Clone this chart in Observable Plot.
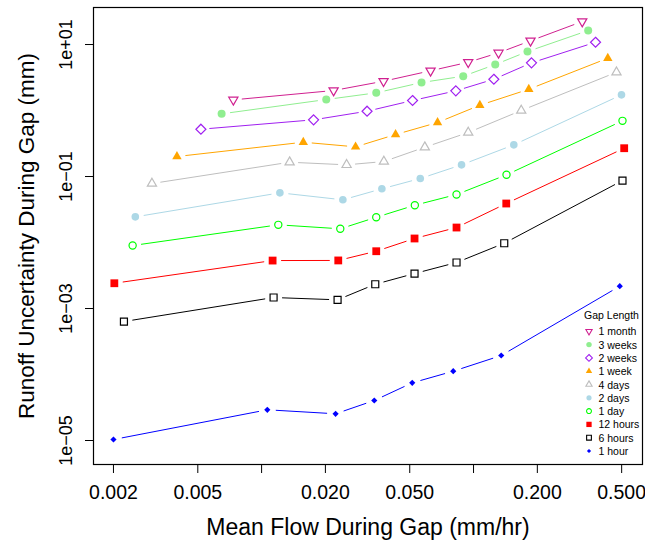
<!DOCTYPE html>
<html>
<head>
<meta charset="utf-8">
<script src="https://cdn.jsdelivr.net/npm/d3@7"></script>
<script src="https://cdn.jsdelivr.net/npm/@observablehq/plot@0.6"></script>
<style>
  html, body { margin: 0; padding: 0; background: white; }
  #chart { position: relative; width: 645px; height: 546px; font-family: "Liberation Sans", Arial, Helvetica, sans-serif; }
  #chart svg { display: block; }
</style>
</head>
<body>
<div id="chart"></div>
<script>
// ---- Data ----
const seriesNames = ["1 month", "3 weeks", "2 weeks", "1 week", "4 days", "2 days", "1 day", "12 hours", "6 hours", "1 hour"];

const flow_1month = [0.007355, 0.02186, 0.03762, 0.06268, 0.0944, 0.1312, 0.1857, 0.3257];
const unc_1month  = [1.452, 2.01, 2.78, 4.00, 5.39, 7.48, 11.38, 22.3];

const flow_3weeks = [0.006476, 0.02019, 0.03475, 0.05684, 0.0894, 0.1266, 0.1797, 0.3475];
const unc_3weeks  = [0.891, 1.468, 1.854, 2.656, 3.31, 4.98, 7.83, 16.3];

const flow_2weeks = [0.005172, 0.01759, 0.03145, 0.05156, 0.0825, 0.1247, 0.1877, 0.3764];
const unc_2weeks  = [0.521, 0.723, 0.976, 1.418, 1.988, 2.98, 5.28, 10.83];

const flow_1week = [0.003986, 0.01573, 0.02776, 0.04287, 0.06764, 0.1071, 0.1823, 0.4301];
const unc_1week  = [0.2009, 0.331, 0.2818, 0.4329, 0.658, 1.203, 2.10, 6.20];

const flow_4days = [0.003038, 0.01356, 0.02518, 0.03775, 0.05891, 0.0944, 0.1679, 0.4726];
const unc_4days  = [0.0783, 0.1648, 0.1503, 0.1687, 0.278, 0.464, 1.0, 3.80];

const flow_2days = [0.002536, 0.01220, 0.02418, 0.03694, 0.05606, 0.08778, 0.1549, 0.4990];
const unc_2days  = [0.02449, 0.05662, 0.04436, 0.06516, 0.0933, 0.1503, 0.302, 1.729];

const flow_1day = [0.002463, 0.01199, 0.02351, 0.03475, 0.05285, 0.08313, 0.1431, 0.5045];
const unc_1day  = [0.00901, 0.01854, 0.01614, 0.02415, 0.03673, 0.05333, 0.1062, 0.698];

const flow_12hours = [0.002019, 0.01127, 0.02300, 0.03475, 0.05268, 0.08313, 0.1427, 0.5139];
const unc_12hours  = [0.002415, 0.00533, 0.00535, 0.00738, 0.01151, 0.01687, 0.0390, 0.2685];

const flow_6hours = [0.002241, 0.01139, 0.02283, 0.03438, 0.05268, 0.08313, 0.1396, 0.5045];
const unc_6hours  = [0.000635, 0.001468, 0.001355, 0.002333, 0.003388, 0.004977, 0.00975, 0.0869];

const flow_1hour = [0.00200, 0.01064, 0.02234, 0.03401, 0.05138, 0.0802, 0.1351, 0.4898];
const unc_1hour  = [1.035e-5, 2.92e-5, 2.54e-5, 4.04e-5, 7.48e-5, 1.122e-4, 1.94e-4, 2.18e-3];

const seriesFlows = [flow_1month, flow_3weeks, flow_2weeks, flow_1week, flow_4days, flow_2days, flow_1day, flow_12hours, flow_6hours, flow_1hour];
const seriesUncs  = [unc_1month, unc_3weeks, unc_2weeks, unc_1week, unc_4days, unc_2days, unc_1day, unc_12hours, unc_6hours, unc_1hour];

const xTickValues = [0.002, 0.005, 0.01, 0.02, 0.05, 0.1, 0.2, 0.5];
const xTickLabels = ["0.002", "0.005", "", "0.020", "0.050", "", "0.200", "0.500"];
const yTickValues = [1e-5, 1e-3, 1e-1, 10];
const yTickLabels = ["1e\u221205", "1e\u221203", "1e\u221201", "1e+01"];

const xTitle = "Mean Flow During Gap (mm/hr)";
const yTitle = "Runoff Uncertainty During Gap (mm)";
const legendTitle = "Gap Length";

// ---- Styles ----
const seriesColors = ["#D02090", "#90EE90", "#A020F0", "#FFA500", "#BEBEBE", "#ADD8E6", "#00FF00", "#FF0000", "#000000", "#0000FF"];
const seriesShapes = ["triDown", "circle", "diamond", "triUp", "triUp", "circle", "circle", "square", "square", "diamond"];
const seriesFilled = [false, true, false, true, false, true, false, true, false, true];
const seriesSizes  = [4.6, 4.0, 5.0, 4.7, 4.6, 3.8, 3.6, 3.9, 3.5, 3.1];

const W = 645, H = 546, ML = 93, MR = 3, MT = 7, MB = 82;
const xDomain = [0.00161, 0.627];
const yDomain = [4.33e-6, 36.4];
const GAP = 8.5; // pixel gap around points (R type = "b")

// custom symbols; half-width derived from the size Plot passes (r*r*PI)
const rad = s => Math.sqrt(s / Math.PI);
const symbols = {
  circle: { draw(c, s) { const r = rad(s); c.moveTo(r, 0); c.arc(0, 0, r, 0, 2 * Math.PI); c.closePath(); } },
  square: { draw(c, s) { const r = rad(s); c.rect(-r, -r, 2 * r, 2 * r); } },
  triUp: { draw(c, s) { const r = rad(s); c.moveTo(0, -r * 1.1547); c.lineTo(r, r * 0.5774); c.lineTo(-r, r * 0.5774); c.closePath(); } },
  triDown: { draw(c, s) { const r = rad(s); c.moveTo(0, r * 1.1547); c.lineTo(r, -r * 0.5774); c.lineTo(-r, -r * 0.5774); c.closePath(); } },
  diamond: { draw(c, s) { const r = rad(s); c.moveTo(0, -r); c.lineTo(r, 0); c.lineTo(0, r); c.lineTo(-r, 0); c.closePath(); } }
};

// ---- Build table & gapped segments ----
const rows = [];
const segs = [];
const kx = (W - ML - MR) / (Math.log10(xDomain[1]) - Math.log10(xDomain[0]));
const ky = (H - MT - MB) / (Math.log10(yDomain[1]) - Math.log10(yDomain[0]));
seriesNames.forEach((name, i) => {
  const fx = seriesFlows[i], uy = seriesUncs[i];
  fx.forEach((f, j) => rows.push({ series: name, idx: i, flow: f, unc: uy[j] }));
  for (let j = 0; j < fx.length - 1; j++) {
    const lx1 = Math.log10(fx[j]), ly1 = Math.log10(uy[j]);
    const lx2 = Math.log10(fx[j + 1]), ly2 = Math.log10(uy[j + 1]);
    const px = (lx2 - lx1) * kx, py = (ly2 - ly1) * ky;
    const L = Math.hypot(px, py);
    if (L <= 2 * GAP) continue;
    const t = GAP / L;
    segs.push({
      idx: i,
      x1: Math.pow(10, lx1 + (lx2 - lx1) * t), y1: Math.pow(10, ly1 + (ly2 - ly1) * t),
      x2: Math.pow(10, lx2 - (lx2 - lx1) * t), y2: Math.pow(10, ly2 - (ly2 - ly1) * t)
    });
  }
});

const marks = [
  Plot.frame({ stroke: "black", strokeWidth: 1.2 }),
  Plot.axisX({ ticks: xTickValues, tickFormat: () => "", tickSize: 9, label: null }),
  Plot.text(xTickValues, { x: d => d, text: d => xTickLabels[xTickValues.indexOf(d)], frameAnchor: "bottom", textAnchor: "middle", lineAnchor: "top", dy: 21, fontSize: 19.5 }),
  Plot.axisY({ ticks: yTickValues, tickFormat: () => "", tickSize: 8, label: null }),
  Plot.text(yTickValues, { y: d => d, text: d => yTickLabels[yTickValues.indexOf(d)], frameAnchor: "left", textAnchor: "middle", lineAnchor: "middle", dx: -27, rotate: -90, fontSize: 18 }),
  Plot.text([yTitle], { text: d => d, frameAnchor: "left", textAnchor: "middle", lineAnchor: "middle", dx: -67, rotate: -90, fontSize: 22.5 }),
  Plot.text([xTitle], { text: d => d, frameAnchor: "bottom", textAnchor: "middle", lineAnchor: "middle", dy: 63, fontSize: 23 })
];

seriesNames.forEach((name, i) => {
  marks.push(Plot.link(segs.filter(s => s.idx === i), { x1: "x1", y1: "y1", x2: "x2", y2: "y2", stroke: seriesColors[i], strokeWidth: 1 }));
});
seriesNames.forEach((name, i) => {
  const filled = seriesFilled[i];
  marks.push(Plot.dot(rows.filter(r => r.idx === i), {
    x: "flow", y: "unc",
    symbol: symbols[seriesShapes[i]],
    r: seriesSizes[i],
    fill: filled ? seriesColors[i] : "none",
    stroke: filled ? "none" : seriesColors[i],
    strokeWidth: 1.2
  }));
});

const chart = Plot.plot({
  width: W, height: H,
  marginLeft: ML, marginRight: MR, marginTop: MT, marginBottom: MB,
  x: { type: "log", domain: xDomain },
  y: { type: "log", domain: yDomain },
  style: { fontFamily: "'Liberation Sans', Arial, Helvetica, sans-serif", background: "white", color: "black", overflow: "visible" },
  marks
});
const container = document.getElementById("chart");
container.appendChild(chart);

// ---- Legend (inside the plot box, bottom right) ----
const leg = d3.select(container).append("svg")
  .attr("width", W).attr("height", H)
  .style("position", "absolute").style("left", "0px").style("top", "0px")
  .style("pointer-events", "none")
  .style("font-family", "'Liberation Sans', Arial, Helvetica, sans-serif");
leg.append("text").attr("x", 611.5).attr("y", 315).attr("text-anchor", "middle")
  .attr("dominant-baseline", "central").attr("font-size", 10.5).attr("fill", "black").text(legendTitle);
seriesNames.forEach((name, i) => {
  const y = 331.3 + i * 13.3;
  const filled = seriesFilled[i];
  const r = seriesSizes[i] * 0.68;
  leg.append("path")
    .attr("d", d3.symbol(symbols[seriesShapes[i]], r * r * Math.PI)())
    .attr("transform", `translate(589,${y})`)
    .attr("fill", filled ? seriesColors[i] : "none")
    .attr("stroke", filled ? "none" : seriesColors[i])
    .attr("stroke-width", 1.1);
  leg.append("text").attr("x", 598.5).attr("y", y).attr("dominant-baseline", "central")
    .attr("font-size", 10.5).attr("fill", "black").text(name);
});
</script>
</body>
</html>
